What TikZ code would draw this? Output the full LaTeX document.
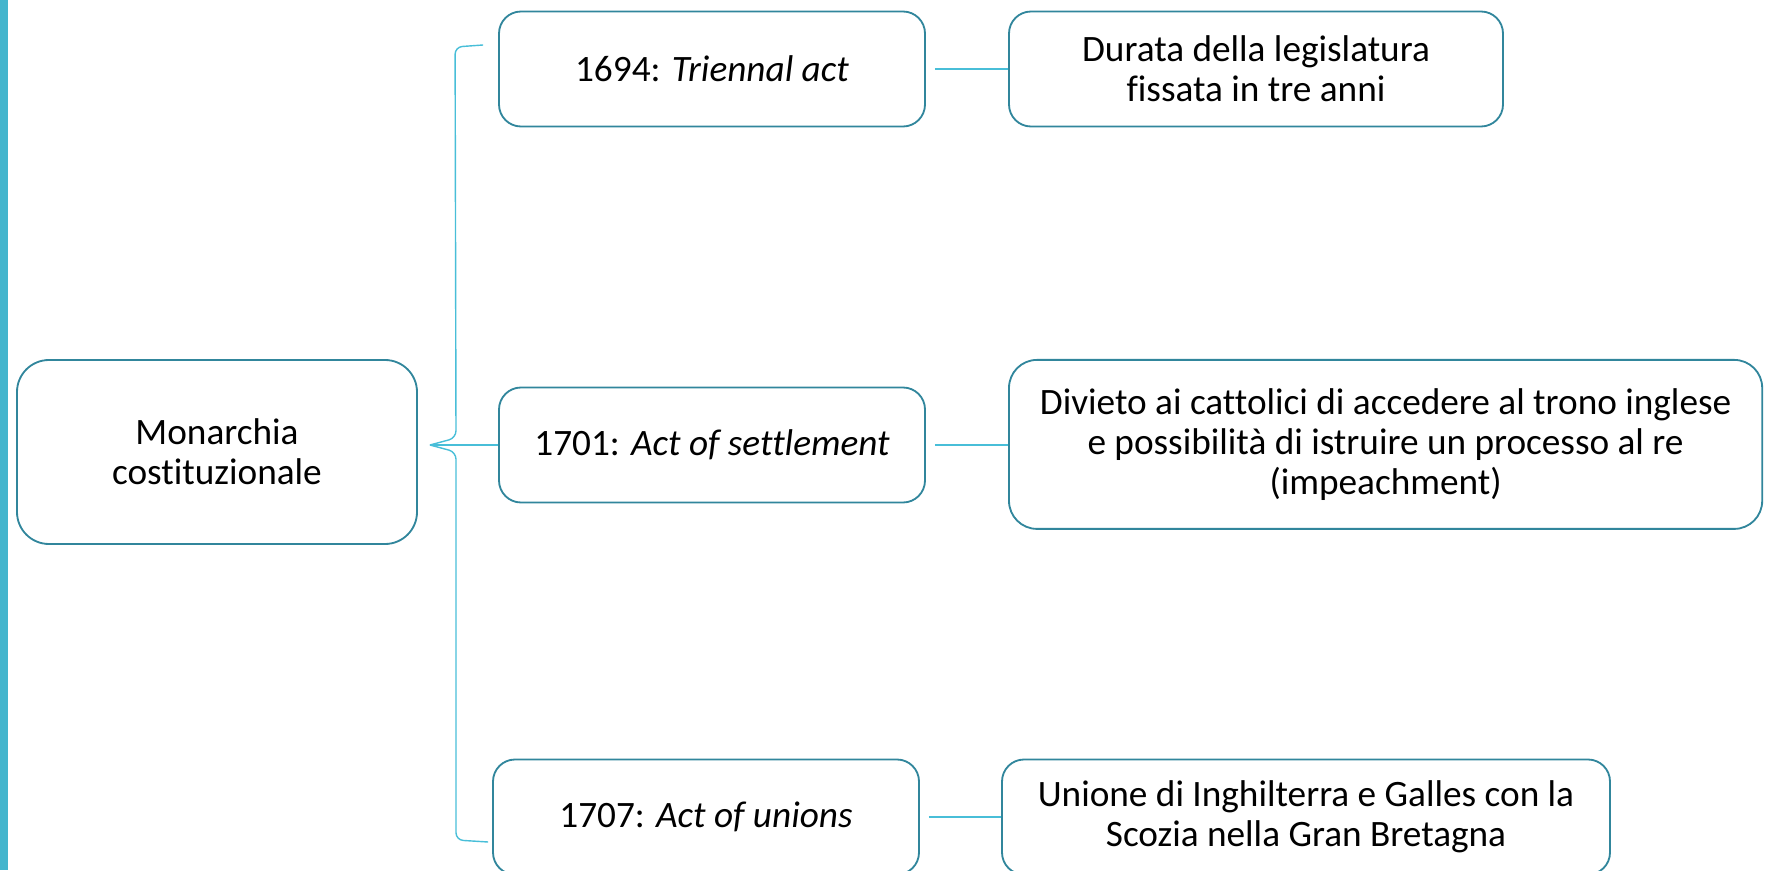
\documentclass[tikz,border=0pt]{standalone}
\usepackage{fontspec}
\setmainfont[Ligatures=NoCommon]{Carlito}
\definecolor{boxline}{RGB}{49,134,156}
\definecolor{linkline}{RGB}{72,190,216}
\begin{document}
\begin{tikzpicture}[
    box/.style={draw=boxline, line width=1.3pt, rounded corners=0.55cm,
                fill=white, align=center, inner sep=0pt,
                font=\fontsize{26.5}{28.3}\selectfont},
    link/.style={draw=linkline, line width=1pt},
    brace/.style={draw=linkline, line width=1pt, rounded corners=0.18cm}
]

\useasboundingbox (0,0) rectangle (44.125,21.75);
\fill[linkline!95!black] (0,0) rectangle (0.2,21.75);

\node[box, rounded corners=0.8cm, minimum width=10cm, minimum height=4.6cm]
      (mon) at (5.425,10.45) {Monarchia\\costituzionale};

\node[box, minimum width=10.65cm, minimum height=2.875cm] (a1694) at (17.8,20.025)
      {1694: \textit{Triennal act}};
\node[box, minimum width=10.65cm, minimum height=2.875cm] (a1701) at (17.8,10.625)
      {1701: \textit{Act of settlement}};
\node[box, minimum width=10.65cm, minimum height=2.875cm] (a1707) at (17.65,1.325)
      {1707: \textit{Act of unions}};

\node[box, minimum width=12.35cm, minimum height=2.875cm] (dur) at (31.4,20.025)
      {Durata della legislatura\\fissata in tre anni};
\node[box, rounded corners=0.7cm, minimum width=18.83cm, minimum height=4.225cm]
      (div) at (34.64,10.64)
      {Divieto ai cattolici di accedere al trono inglese\\e possibilità di istruire un processo al re\\(impeachment)};
\node[box, minimum width=15.2cm, minimum height=2.875cm] (uni) at (32.65,1.325)
      {Unione di Inghilterra e Galles con la\\Scozia nella Gran Bretagna};

% brace from the main box to the three acts
\coordinate (tip)  at ([xshift=0.3cm]mon.east |- a1701.west);
\coordinate (btop) at ([xshift=-0.375cm, yshift=0.6cm]a1694.west);
\coordinate (bbot) at ([xshift=-0.1cm, yshift=-0.625cm]a1707.west);
\draw[brace] (btop) -- ++(-0.7,-0.05) -- (11.4,10.8) -- (tip);
\draw[brace] (tip) -- (11.4,10.45) -- (11.4,0.75) -- (bbot);
\draw[link] (tip) -- (a1701.west);

\draw[link, shorten <=0.225cm] (a1694) -- (dur);
\draw[link, shorten <=0.225cm] (a1701.east) -- (a1701.east -| div.west);
\draw[link, shorten <=0.225cm] (a1707) -- (uni);

\end{tikzpicture}
\end{document}
